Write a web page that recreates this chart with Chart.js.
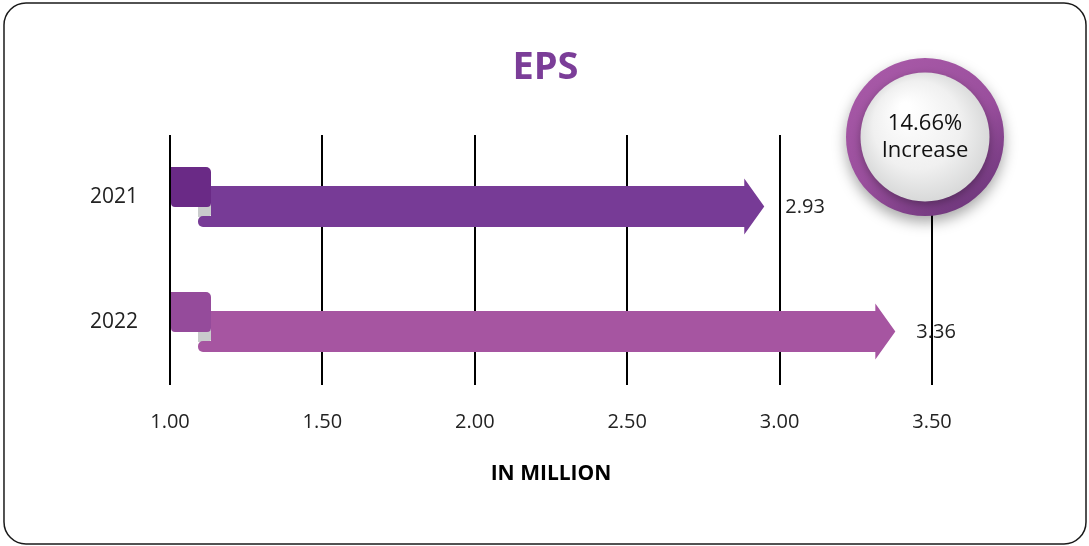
<!DOCTYPE html>
<html>
<head>
<meta charset="utf-8">
<script src="https://cdn.jsdelivr.net/npm/chart.js@4.4.0/dist/chart.umd.min.js"></script>
<style>
  body { margin: 0; background: #fff; }
  canvas { display: block; }
</style>
</head>
<body>
<canvas id="myChart" width="1089" height="546"></canvas>
<script>
const years = ['2021', '2022'];
const eps = [2.93, 3.36];
const tickMin = 1.0;
const tickMax = 3.5;
const tickStep = 0.5;
const chartTitle = 'EPS';
const axisTitle = 'IN MILLION';
const badgeLines = ['14.66%', 'Increase'];

const bodyColors = ['#773b96', '#a655a1'];
const flagColors = ['#6a2a86', '#954b9b'];
const FONT = "'Open Sans', sans-serif";

function roundRect(c, x, y, w, h, r) {
  c.beginPath();
  c.roundRect(x, y, w, h, r);
  c.fill();
}

// draws the frame, title, ribbon arrows and the % badge
const decor = {
  id: 'decor',
  beforeDraw(chart) {
    const c = chart.ctx;
    c.save();
    c.fillStyle = '#fff';
    c.fillRect(0, 0, chart.width, chart.height);
    c.strokeStyle = '#1a1a1a';
    c.lineWidth = 1.5;
    c.beginPath();
    c.roundRect(4, 3, chart.width - 7, chart.height - 5, 22);
    c.stroke();
    c.restore();
  },
  afterDatasetsDraw(chart) {
    const c = chart.ctx;
    const meta = chart.getDatasetMeta(0);
    c.save();
    meta.data.forEach((el, i) => {
      const cy = el.y + 9;
      const x0 = el.base;
      const tip = el.x + 6;
      const headBase = tip - 20;
      const top = cy - 20.5, bot = cy + 20.5;
      const sqTop = top - 19, sqBot = sqTop + 40;

      // gray fold
      c.fillStyle = '#c9cbcc';
      roundRect(c, x0 + 27, sqBot - 2, 14, 12, [0, 0, 5, 0]);
      // body + head as one shape
      c.fillStyle = bodyColors[i];
      c.beginPath();
      c.moveTo(x0 + 40, top);
      c.lineTo(headBase, top);
      c.lineTo(headBase, cy - 28);
      c.lineTo(tip, cy);
      c.lineTo(headBase, cy + 28);
      c.lineTo(headBase, bot);
      c.lineTo(x0 + 40, bot);
      c.closePath();
      c.fill();
      roundRect(c, x0 + 27, sqBot + 9, 20, bot - sqBot - 9, [5, 0, 0, 5]);
      // flag square
      c.fillStyle = flagColors[i];
      roundRect(c, x0, sqTop, 40, 40, [0, 5, 4, 4]);
      // value
      c.fillStyle = '#222';
      c.font = '20px ' + FONT;
      c.textAlign = 'left';
      c.textBaseline = 'middle';
      c.fillText(eps[i].toFixed(2), tip + 21, cy + 1);
    });
    c.restore();
  },
  afterDraw(chart) {
    const c = chart.ctx;
    const area = chart.chartArea;
    c.save();
    // title
    c.fillStyle = '#7b3d98';
    c.font = 'bold 38px ' + FONT;
    c.textAlign = 'center';
    c.textBaseline = 'middle';
    c.fillText(chartTitle, chart.width / 2 + 1, 68);

    // badge
    const bx = area.right - 7, by = area.top + 2;
    c.shadowColor = 'rgba(0,0,0,0.35)';
    c.shadowBlur = 14;
    c.shadowOffsetY = 6;
    let g = c.createLinearGradient(bx - 60, by - 79, bx + 40, by + 79);
    g.addColorStop(0, '#a95aa8');
    g.addColorStop(0.55, '#9a4f9d');
    g.addColorStop(1, '#6d367b');
    c.fillStyle = g;
    c.beginPath();
    c.arc(bx, by, 79, 0, Math.PI * 2);
    c.fill();
    c.shadowColor = 'rgba(0,0,0,0.3)';
    c.shadowBlur = 8;
    c.shadowOffsetY = 3;
    g = c.createRadialGradient(bx - 20, by - 30, 5, bx, by, 70);
    g.addColorStop(0, '#ffffff');
    g.addColorStop(0.6, '#f0f0f0');
    g.addColorStop(1, '#d4d5d5');
    c.fillStyle = g;
    c.beginPath();
    c.arc(bx, by, 64.5, 0, Math.PI * 2);
    c.fill();
    c.shadowColor = 'transparent';
    c.fillStyle = '#111';
    c.font = '22px ' + FONT;
    c.fillText(badgeLines[0], bx, by - 13);
    c.fillText(badgeLines[1], bx, by + 14);
    c.restore();
  }
};

const ctx = document.getElementById('myChart');

const chart = new Chart(ctx, {
  type: 'bar',
  data: {
    labels: years,
    datasets: [{
      data: eps,
      base: tickMin,
      backgroundColor: 'rgba(0,0,0,0)',
      barThickness: 41
    }]
  },
  options: {
    indexAxis: 'y',
    responsive: false,
    animation: false,
    layout: { padding: { left: 0, top: 135, right: 157, bottom: 51 } },
    plugins: {
      legend: { display: false },
      tooltip: { enabled: false }
    },
    scales: {
      x: {
        min: tickMin,
        max: tickMax,
        afterFit: (s) => { s.height = 110; },
        grid: { color: '#000', lineWidth: 2, drawTicks: false },
        border: { display: false },
        ticks: {
          stepSize: tickStep,
          padding: 25,
          color: '#222',
          font: { family: FONT, size: 20 },
          callback: (v) => Number(v).toFixed(2)
        },
        title: {
          display: true,
          text: axisTitle,
          color: '#000',
          font: { family: FONT, size: 21, weight: 'bold' },
          padding: { top: 8, bottom: 8 }
        }
      },
      y: {
        afterFit: (s) => { s.width = 170; },
        grid: { display: false, drawTicks: false },
        border: { display: false },
        ticks: {
          padding: 32,
          color: '#222',
          font: { family: FONT, size: 21 }
        }
      }
    }
  },
  plugins: [decor]
});
</script>
</body>
</html>
